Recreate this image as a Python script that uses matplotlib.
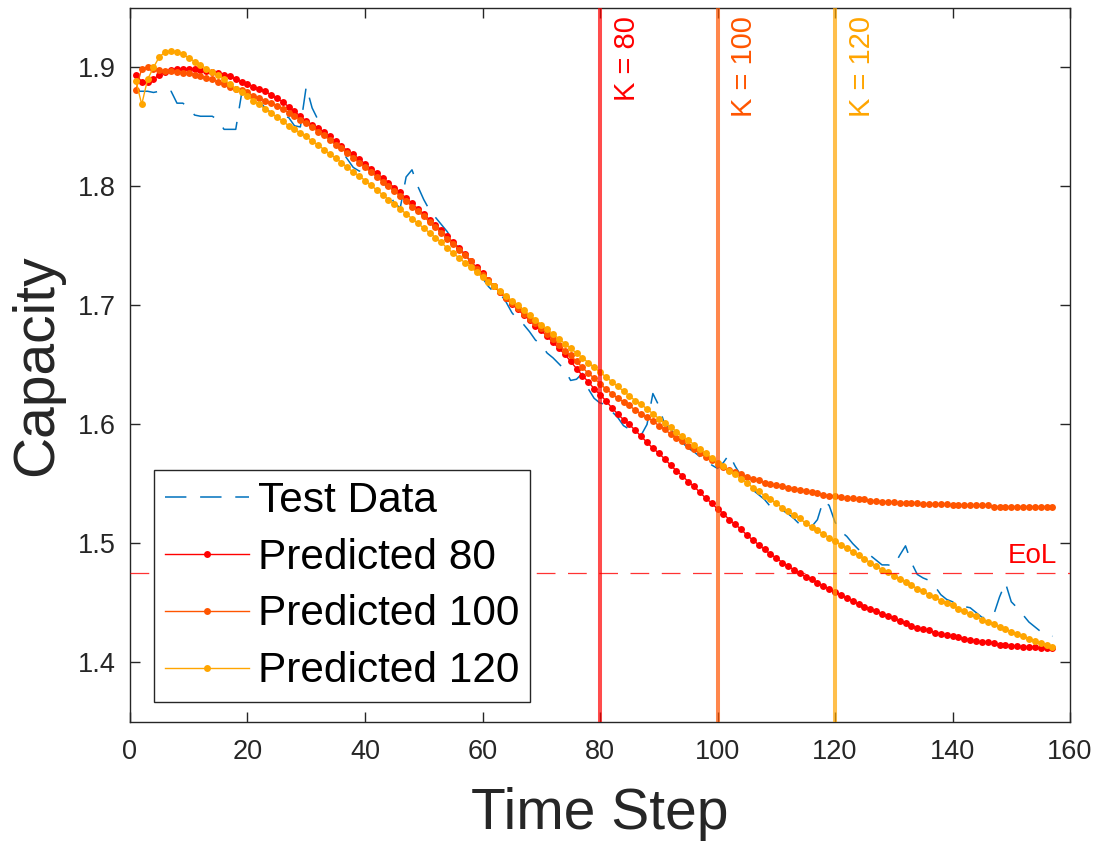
#!/usr/bin/env python3
"""Capacity fade: test data vs. predictions started at K = 80 / 100 / 120."""

import numpy as np
import matplotlib
matplotlib.use("Agg")
from matplotlib import pyplot as plt

OUTPUT_FILE = "out.png"

# ---- data ----
cycles = np.arange(1, 158)

test_data = [
    1.880, 1.880, 1.880, 1.879, 1.880, 1.881, 1.880, 1.870, 1.870, 1.866,
    1.860, 1.859, 1.859, 1.859, 1.856, 1.848, 1.848, 1.848, 1.878, 1.880,
    1.878, 1.872, 1.866, 1.862, 1.860, 1.859, 1.858, 1.851, 1.850, 1.884,
    1.866, 1.856, 1.846, 1.840, 1.836, 1.830, 1.823, 1.816, 1.813, 1.812,
    1.811, 1.812, 1.806, 1.795, 1.786, 1.782, 1.808, 1.814, 1.800, 1.789,
    1.780, 1.774, 1.768, 1.762, 1.754, 1.748, 1.743, 1.737, 1.730, 1.723,
    1.716, 1.711, 1.710, 1.703, 1.694, 1.688, 1.684, 1.678, 1.671, 1.667,
    1.660, 1.656, 1.651, 1.646, 1.637, 1.638, 1.643, 1.630, 1.622, 1.618,
    1.617, 1.611, 1.606, 1.599, 1.596, 1.593, 1.591, 1.600, 1.626, 1.616,
    1.600, 1.596, 1.591, 1.585, 1.580, 1.577, 1.573, 1.570, 1.566, 1.563,
    1.568, 1.575, 1.565, 1.557, 1.550, 1.545, 1.541, 1.537, 1.531, 1.530,
    1.528, 1.525, 1.521, 1.516, 1.514, 1.514, 1.520, 1.536, 1.532, 1.518,
    1.510, 1.506, 1.500, 1.495, 1.492, 1.490, 1.486, 1.482, 1.482, 1.481,
    1.490, 1.498, 1.484, 1.474, 1.471, 1.469, 1.464, 1.457, 1.453, 1.451,
    1.448, 1.447, 1.446, 1.442, 1.438, 1.437, 1.440, 1.455, 1.467, 1.451,
    1.446, 1.440, 1.434, 1.430, 1.426, 1.424, 1.422,
]

pred_80 = [
    1.894, 1.888, 1.888, 1.890, 1.894, 1.896, 1.898, 1.899, 1.899, 1.899,
    1.899, 1.898, 1.897, 1.896, 1.895, 1.894, 1.893, 1.890, 1.888, 1.886,
    1.884, 1.882, 1.880, 1.877, 1.874, 1.871, 1.867, 1.863, 1.859, 1.855,
    1.852, 1.849, 1.846, 1.842, 1.838, 1.834, 1.830, 1.827, 1.823, 1.819,
    1.815, 1.811, 1.807, 1.803, 1.799, 1.795, 1.790, 1.786, 1.781, 1.777,
    1.772, 1.768, 1.763, 1.758, 1.753, 1.748, 1.743, 1.737, 1.732, 1.727,
    1.721, 1.716, 1.711, 1.706, 1.701, 1.697, 1.692, 1.688, 1.683, 1.679,
    1.674, 1.669, 1.664, 1.659, 1.653, 1.647, 1.641, 1.636, 1.630, 1.625,
    1.620, 1.614, 1.609, 1.604, 1.600, 1.595, 1.590, 1.585, 1.580, 1.576,
    1.571, 1.566, 1.561, 1.557, 1.552, 1.548, 1.543, 1.538, 1.534, 1.529,
    1.525, 1.520, 1.516, 1.512, 1.507, 1.503, 1.499, 1.495, 1.491, 1.488,
    1.484, 1.481, 1.478, 1.475, 1.472, 1.470, 1.467, 1.464, 1.462, 1.459,
    1.457, 1.454, 1.452, 1.449, 1.447, 1.445, 1.443, 1.441, 1.439, 1.437,
    1.435, 1.433, 1.431, 1.429, 1.428, 1.427, 1.425, 1.424, 1.423, 1.422,
    1.421, 1.420, 1.419, 1.418, 1.417, 1.417, 1.416, 1.415, 1.415, 1.414,
    1.414, 1.413, 1.413, 1.413, 1.412, 1.412, 1.412,
]

pred_100 = [
    1.881, 1.899, 1.900, 1.899, 1.898, 1.897, 1.897, 1.896, 1.895, 1.895,
    1.894, 1.893, 1.891, 1.890, 1.888, 1.886, 1.884, 1.882, 1.881, 1.879,
    1.876, 1.874, 1.872, 1.870, 1.868, 1.865, 1.862, 1.859, 1.856, 1.853,
    1.850, 1.846, 1.843, 1.839, 1.835, 1.832, 1.828, 1.824, 1.820, 1.816,
    1.812, 1.808, 1.804, 1.800, 1.796, 1.792, 1.788, 1.783, 1.779, 1.775,
    1.770, 1.766, 1.761, 1.756, 1.752, 1.747, 1.742, 1.737, 1.731, 1.726,
    1.721, 1.716, 1.711, 1.706, 1.702, 1.698, 1.693, 1.689, 1.685, 1.681,
    1.676, 1.672, 1.667, 1.662, 1.658, 1.653, 1.648, 1.643, 1.639, 1.634,
    1.630, 1.626, 1.622, 1.619, 1.616, 1.612, 1.609, 1.606, 1.603, 1.599,
    1.596, 1.592, 1.589, 1.586, 1.582, 1.579, 1.576, 1.573, 1.570, 1.567,
    1.564, 1.562, 1.560, 1.558, 1.556, 1.554, 1.553, 1.551, 1.550, 1.549,
    1.548, 1.547, 1.546, 1.545, 1.544, 1.543, 1.542, 1.541, 1.540, 1.540,
    1.539, 1.538, 1.538, 1.537, 1.537, 1.536, 1.536, 1.535, 1.535, 1.535,
    1.534, 1.534, 1.534, 1.534, 1.533, 1.533, 1.533, 1.533, 1.533, 1.532,
    1.532, 1.532, 1.532, 1.532, 1.532, 1.532, 1.531, 1.531, 1.531, 1.531,
    1.531, 1.531, 1.531, 1.531, 1.531, 1.531, 1.531,
]

pred_120 = [
    1.889, 1.869, 1.890, 1.900, 1.909, 1.913, 1.914, 1.913, 1.911, 1.908,
    1.905, 1.902, 1.899, 1.896, 1.894, 1.890, 1.886, 1.882, 1.879, 1.876,
    1.872, 1.869, 1.865, 1.862, 1.858, 1.855, 1.851, 1.848, 1.845, 1.842,
    1.838, 1.835, 1.831, 1.827, 1.824, 1.820, 1.816, 1.812, 1.809, 1.805,
    1.801, 1.797, 1.793, 1.789, 1.785, 1.781, 1.777, 1.773, 1.769, 1.765,
    1.761, 1.757, 1.753, 1.748, 1.744, 1.740, 1.736, 1.732, 1.728, 1.724,
    1.720, 1.716, 1.712, 1.708, 1.704, 1.700, 1.696, 1.692, 1.688, 1.684,
    1.680, 1.676, 1.672, 1.668, 1.664, 1.660, 1.656, 1.652, 1.648, 1.644,
    1.640, 1.636, 1.632, 1.628, 1.624, 1.620, 1.617, 1.613, 1.609, 1.605,
    1.601, 1.598, 1.594, 1.590, 1.587, 1.583, 1.579, 1.576, 1.572, 1.568,
    1.565, 1.561, 1.558, 1.554, 1.551, 1.547, 1.544, 1.540, 1.537, 1.534,
    1.530, 1.527, 1.524, 1.521, 1.517, 1.514, 1.511, 1.508, 1.505, 1.502,
    1.499, 1.496, 1.493, 1.490, 1.487, 1.484, 1.481, 1.478, 1.476, 1.473,
    1.470, 1.468, 1.465, 1.462, 1.460, 1.457, 1.455, 1.452, 1.450, 1.448,
    1.445, 1.443, 1.441, 1.439, 1.436, 1.434, 1.432, 1.430, 1.428, 1.426,
    1.424, 1.422, 1.420, 1.418, 1.416, 1.415, 1.413,
]

k_values = [80, 100, 120]
k_labels = ["K = 80", "K = 100", "K = 120"]
series_labels = ["Predicted 80", "Predicted 100", "Predicted 120"]
eol_capacity = 1.475

x_ticks = [0, 20, 40, 60, 80, 100, 120, 140, 160]
y_ticks = [1.4, 1.5, 1.6, 1.7, 1.8, 1.9]

# ---- style ----
C_TEST = "#0072BD"
PRED_COLORS = ["#FF0000", "#FF5500", "#FFA500"]
INK = "#262626"

plt.rcParams["font.family"] = ["Liberation Sans", "DejaVu Sans"]

fig = plt.figure(figsize=(10.96, 8.47), dpi=100)
ax = fig.add_axes([0.1186, 0.1476, 0.8577, 0.8430])

# test data, dashed blue
ax.plot(cycles, test_data, color=C_TEST, lw=1.1, dashes=(14, 9),
        label="Test Data", zorder=2)

# predictions, dotted lines
for preds, col, lab in zip([pred_80, pred_100, pred_120], PRED_COLORS, series_labels):
    ax.plot(cycles, preds, color=col, lw=1.0, marker="o", ms=5.0,
            markeredgewidth=0, label=lab, zorder=3)

# prediction start markers
for k, col, txt in zip(k_values, PRED_COLORS, k_labels):
    ax.axvline(k, color=col, alpha=0.7, lw=2.9, zorder=4)
    ax.text(k + 2.2, 1.943, txt, rotation=90, ha="left", va="top",
            color=col, fontsize=21, zorder=5)

# end-of-life threshold
ax.axhline(eol_capacity, color="#FF0000", alpha=0.8, lw=0.9,
           dashes=(15, 10), zorder=4)
ax.text(157.8, 1.484, "EoL", color="#FF0000", fontsize=20,
        ha="right", va="baseline", zorder=5)

# axes
ax.set_xlim(0, 160)
ax.set_ylim(1.35, 1.95)
ax.set_xticks(x_ticks)
ax.set_yticks(y_ticks)
ax.set_yticklabels([f"{v:.1f}" for v in y_ticks])
ax.tick_params(direction="in", length=7, width=1.0, colors=INK,
               labelsize=19.5, top=True, right=True)
ax.tick_params(axis="x", pad=12)
ax.tick_params(axis="y", pad=10)
for sp in ax.spines.values():
    sp.set_color(INK)
    sp.set_linewidth(1.0)

ax.set_xlabel("Time Step", fontsize=41, color=INK, labelpad=16)
ax.set_ylabel("Capacity", fontsize=41, color=INK, labelpad=10)

leg = ax.legend(loc="lower left", bbox_to_anchor=(0.0255, 0.028),
                borderaxespad=0, fontsize=30.5, handlelength=2.0,
                handletextpad=0.2, borderpad=0.25, labelspacing=0.4,
                fancybox=False, framealpha=1, edgecolor=INK)
leg.get_frame().set_linewidth(1.0)

plt.savefig(OUTPUT_FILE, dpi=100)
plt.close()
print(f"Saved: {OUTPUT_FILE}")
